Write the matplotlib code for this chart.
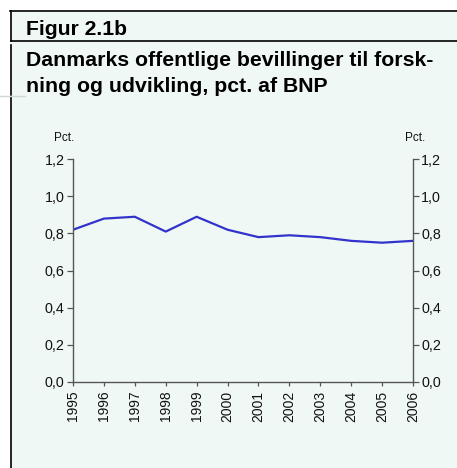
import matplotlib
matplotlib.use("Agg")
import matplotlib.pyplot as plt
from matplotlib.lines import Line2D

years = [1995, 1996, 1997, 1998, 1999, 2000, 2001, 2002, 2003, 2004, 2005, 2006]
values = [0.82, 0.88, 0.89, 0.81, 0.89, 0.82, 0.78, 0.79, 0.78, 0.76, 0.75, 0.76]
yticks = [0.0, 0.2, 0.4, 0.6, 0.8, 1.0, 1.2]
ytick_labels = ["0,0", "0,2", "0,4", "0,6", "0,8", "1,0", "1,2"]
fig_label = "Figur 2.1b"
title_lines = ["Danmarks offentlige bevillinger til forsk-", "ning og udvikling, pct. af BNP"]
unit = "Pct."

W, H = 457, 468
bg = "#f0f8f5"
plt.rcParams["font.family"] = ["Liberation Sans", "DejaVu Sans"]
fig = plt.figure(figsize=(W / 100, H / 100), dpi=100)
fig.patch.set_facecolor("white")

def fx(x):
    return x / W

def fy(y):
    return 1 - y / H

# mint background below the top rule
fig.patches.append(plt.Rectangle((fx(11), 0), 1 - fx(11), fy(11), transform=fig.transFigure,
                                 facecolor=bg, edgecolor="none", zorder=-10))

def fline(x0, y0, x1, y1, color="black", lw=1.2):
    fig.lines.append(Line2D([fx(x0), fx(x1)], [fy(y0), fy(y1)], transform=fig.transFigure,
                            color=color, lw=lw, zorder=-5))

fline(10, 11, W, 11)
fline(11, 11, 11, 41)
fline(11, 41, W, 41)
fline(11, 45, 11, 95)
fline(0, 95.5, 25, 95.5, color="#cfd8d4", lw=1)
fline(11, 98, 11, H)

fig.text(fx(26), fy(35), fig_label, fontsize=15.2, fontweight="bold", va="baseline", ha="left")
for line, base in zip(title_lines, [66, 92]):
    fig.text(fx(26), fy(base), line, fontsize=15.3, fontweight="bold", va="baseline", ha="left")

left, right, top, bottom = 73, 413, 159.3, 381.7
ax = fig.add_axes([fx(left), fy(bottom), fx(right - left), (bottom - top) / H])
ax.set_facecolor("none")
ax.plot(years, values, color="#3333cc", lw=1.6, solid_joinstyle="round")
ax.set_xlim(1995, 2006)
ax.set_ylim(0, 1.2)
ax.set_xticks(years)
ax.set_xticklabels([str(y) for y in years], rotation=90, fontsize=10, color="#111111")
ax.set_yticks(yticks)
ax.set_yticklabels(ytick_labels, fontsize=10.3, color="#111111")
ax.spines["top"].set_visible(False)
for s in ["left", "right", "bottom"]:
    ax.spines[s].set_color("#555555")
    ax.spines[s].set_linewidth(1.0)
ax.tick_params(axis="y", which="both", direction="out", length=4, width=0.9, color="#555555",
               pad=2, left=True, right=True, labelleft=True, labelright=True)
ax.tick_params(axis="x", direction="out", length=3, width=0.9, color="#555555", pad=3.5)

fig.text(fx(64), fy(137.5), unit, fontsize=8.5, ha="center", va="center", color="#111111")
fig.text(fx(415), fy(137.5), unit, fontsize=8.5, ha="center", va="center", color="#111111")

fig.savefig("out.png", dpi=100, facecolor=fig.get_facecolor())
